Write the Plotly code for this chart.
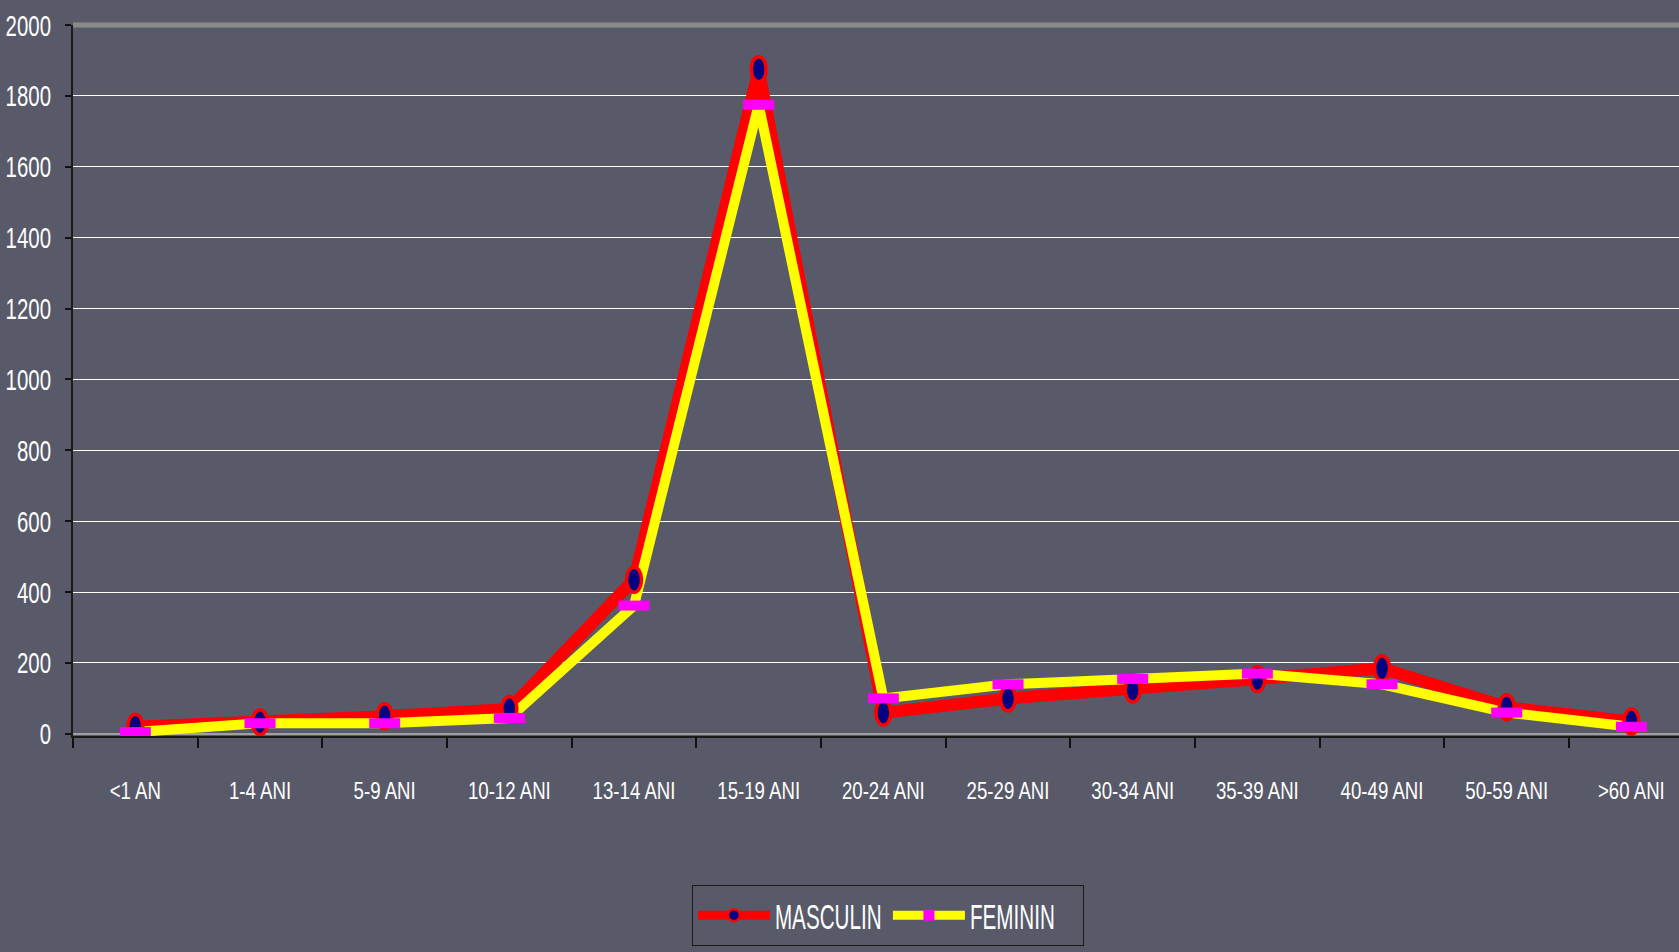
import plotly.graph_objects as go

categories = ["<1 AN", "1-4 ANI", "5-9 ANI", "10-12 ANI", "13-14 ANI", "15-19 ANI",
              "20-24 ANI", "25-29 ANI", "30-34 ANI", "35-39 ANI", "40-49 ANI",
              "50-59 ANI", ">60 ANI"]
masculin = [20, 33, 50, 70, 435, 1875, 60, 100, 125, 155, 185, 75, 35]
feminin = [5, 30, 30, 45, 362, 1775, 100, 140, 155, 170, 140, 60, 20]
y_ticks = [0, 200, 400, 600, 800, 1000, 1200, 1400, 1600, 1800, 2000]

BG = "#585a6a"
FONT = "Liberation Sans, Arial, sans-serif"

fig = go.Figure()

# data lines
fig.add_trace(go.Scatter(x=categories, y=masculin, mode="lines", showlegend=False,
                         line=dict(color="#ff0000", width=12), hoverinfo="skip"))
fig.add_trace(go.Scatter(x=categories, y=feminin, mode="lines", showlegend=False,
                         line=dict(color="#ffff00", width=10), hoverinfo="skip"))

# legend entries
fig.add_trace(go.Scatter(x=[None], y=[None], mode="lines+markers", name="MASCULIN",
                         line=dict(color="#ff0000", width=9),
                         marker=dict(symbol="circle", size=12, color="#000080",
                                     line=dict(color="#ff0000", width=2.5))))
fig.add_trace(go.Scatter(x=[None], y=[None], mode="lines+markers", name="FEMININ",
                         line=dict(color="#ffff00", width=9),
                         marker=dict(symbol="square", size=11, color="#ff00ff",
                                     line=dict(width=0))))

shapes = []
# ellipse markers for MASCULIN
for c, v in zip(categories, masculin):
    shapes.append(dict(type="circle", xref="x", yref="y", xsizemode="pixel", ysizemode="pixel",
                       xanchor=c, yanchor=v, x0=-7.5, x1=7.5, y0=-12.5, y1=12.5,
                       fillcolor="#000080", line=dict(color="#ff0000", width=3.5), layer="above"))
# rectangle markers for FEMININ
for c, v in zip(categories, feminin):
    shapes.append(dict(type="rect", xref="x", yref="y", xsizemode="pixel", ysizemode="pixel",
                       xanchor=c, yanchor=v, x0=-15.5, x1=15.5, y0=-5, y1=5,
                       fillcolor="#ff00ff", line=dict(width=0), layer="above"))
# top border line of plot area
shapes.append(dict(type="line", xref="paper", yref="paper", x0=0, x1=1, y0=1, y1=1,
                   line=dict(color="#8a8a8a", width=5), layer="above"))

fig.update_layout(
    width=1679, height=952,
    margin=dict(l=73, r=0, t=25, b=216, autoexpand=False),
    paper_bgcolor=BG, plot_bgcolor=BG,
    font=dict(family=FONT, color="white", size=22),
    shapes=shapes,
    showlegend=True,
    legend=dict(orientation="h", xref="container", yref="container",
                x=0.4121, xanchor="left", y=0.0704, yanchor="top",
                bordercolor="#1a1a1a", borderwidth=1, bgcolor="rgba(0,0,0,0)",
                font=dict(family=FONT, size=35, color="white"),
                itemwidth=72, entrywidth=108, tracegroupgap=0),
    xaxis=dict(type="category", categoryorder="array", categoryarray=categories,
               range=[-0.5, 12.382], tickson="boundaries", ticks="outside",
               ticklen=10, tickwidth=2, tickcolor="#111111",
               showline=True, linecolor="#1a1a1a", linewidth=2,
               showgrid=False, ticklabelstandoff=33, automargin=False,
               tickfont=dict(family=FONT, size=23, color="white")),
    yaxis=dict(range=[-6, 2000], tickvals=y_ticks, ticktext=[str(t) for t in y_ticks],
               ticks="outside", ticklen=6, tickwidth=2, tickcolor="#111111",
               showline=True, linecolor="#1a1a1a", linewidth=2,
               showgrid=True, gridcolor="#ffffff", gridwidth=1,
               zeroline=True, zerolinecolor="#a0a0a0", zerolinewidth=2,
               ticklabelstandoff=8, automargin=False,
               tickfont=dict(family=FONT, size=30, color="white")),
)

post_js = """
document.body.style.margin = '0';
function squeeze(sel, f) {
  document.querySelectorAll(sel).forEach(function (t) {
    var w = t.getComputedTextLength();
    if (w > 0) {
      t.setAttribute('lengthAdjust', 'spacingAndGlyphs');
      t.setAttribute('textLength', (w * f).toFixed(2));
    }
  });
}
squeeze('.ytick text', 0.68);
squeeze('.xtick text', 0.81);
squeeze('.legendtext', 0.59);
"""

fig.write_html("out.html", post_script=post_js, config={"displayModeBar": False})
